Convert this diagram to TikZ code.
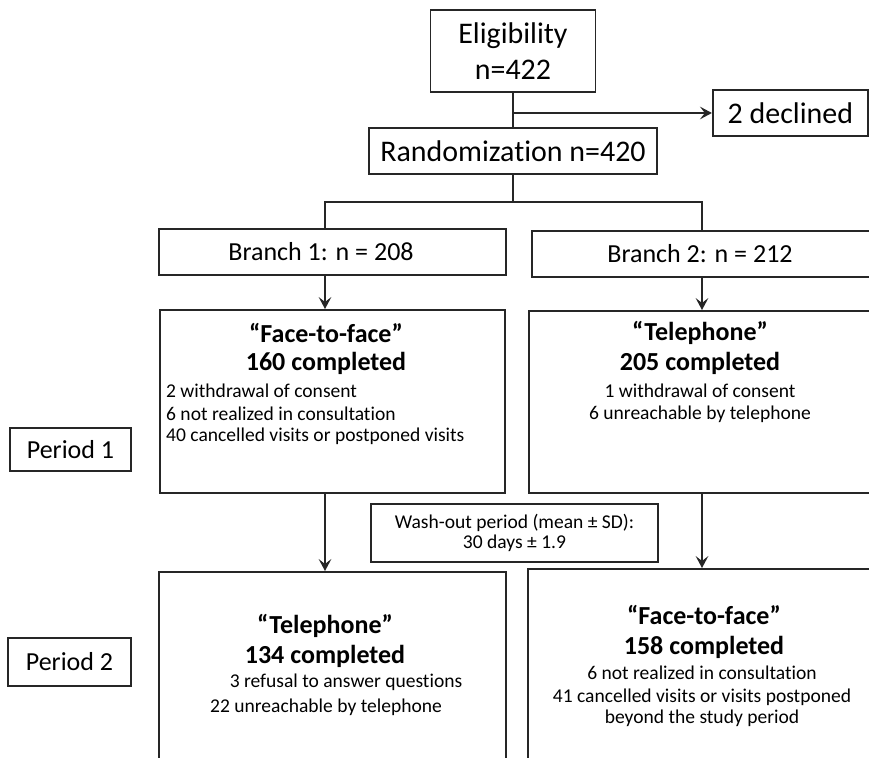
\documentclass[tikz,border=0pt]{standalone}
\usepackage{fontspec}
\setmainfont{Carlito}[Ligatures=NoCommon]
\usetikzlibrary{arrows.meta}
\begin{document}
\begin{tikzpicture}[
    box/.style={draw=black!85, line width=1.4pt, inner sep=0pt},
    bigtxt/.style={font=\fontsize{21.3}{25.6}\selectfont},
    midtxt/.style={font=\fontsize{18.5}{22}\selectfont},
    headtxt/.style={font=\bfseries\fontsize{18.5}{22}\selectfont},
    smalltxt/.style={font=\fontsize{13.9}{14.2}\selectfont},
    joinline/.style={draw=black!85, line width=1.4pt},
    joinarrow/.style={joinline, -{Stealth[length=8.5pt,width=9pt,inset=3.5pt]}}
]
    \useasboundingbox (0,0) rectangle (21.725,18.925);
    \clip (0,0) rectangle (21.725,18.925);
    \node[box, bigtxt, align=center, minimum width=4.125cm, minimum height=2.05cm] (elig) at (12.825,17.65) {Eligibility\\n=422};
    \node[box, bigtxt, minimum width=3.875cm, minimum height=1.15cm] (declined) at (19.76,16.1) {2 declined};
    \node[box, bigtxt, minimum width=7.2cm, minimum height=1.15cm] (rand) at (12.825,15.15) {Randomization n=420};
    \coordinate (split1) at (8.125,13.875);
    \coordinate (split2) at (17.55,13.875);
    \node[box, minimum width=8.675cm, minimum height=1.15cm] (branch1) at (8.31,12.625) {};
    \node[box, minimum width=8.5cm, minimum height=1.15cm] (branch2) at (17.55,12.575) {};
    \node[midtxt] (branch1txt) at (8.025,12.625) {Branch 1: n = 208};
    \node[midtxt] (branch2txt) at (17.5,12.575) {Branch 2: n = 212};
    \node[box, minimum width=8.625cm, minimum height=4.575cm] (ff1) at (8.3125,8.8875) {};
    \node[headtxt] (ff1head) at (8.15,10.6) {“Face-to-face”};
    \node[headtxt] (ff1done) at (8.15,9.85) {160 completed};
    \node[smalltxt, anchor=west] (ff1a) at (4.03,9.15) {2 withdrawal of consent};
    \node[smalltxt, anchor=west] (ff1b) at (4.03,8.575) {6 not realized in consultation};
    \node[smalltxt, anchor=west] (ff1c) at (4.03,8.025) {40 cancelled visits or postponed visits};
    \node[box, minimum width=8.575cm, minimum height=4.55cm] (tel1) at (17.5125,8.875) {};
    \node[headtxt] (tel1head) at (17.5,10.6) {“Telephone”};
    \node[headtxt] (tel1done) at (17.5,9.85) {205 completed};
    \node[smalltxt] (tel1a) at (17.5,9.15) {1 withdrawal of consent};
    \node[smalltxt] (tel1b) at (17.5,8.575) {6 unreachable by telephone};
    \node[box, midtxt, minimum width=3.025cm, minimum height=1.075cm] (per1) at (1.7625,7.6875) {Period 1};
    \node[box, smalltxt, align=center, minimum width=7.175cm, minimum height=1.45cm] (wash) at (12.8625,5.6) {Wash-out period (mean ± SD):\\30 days ± 1.9};
    \node[box, midtxt, minimum width=3.075cm, minimum height=1.2cm] (per2) at (1.7375,2.375) {Period 2};
    \node[box, minimum width=8.675cm, minimum height=5.2cm] (tel2) at (8.3125,2.025) {};
    \node[headtxt] (tel2head) at (8.125,3.275) {“Telephone”};
    \node[headtxt] (tel2done) at (8.125,2.525) {134 completed};
    \node[smalltxt] (tel2a) at (8.65,1.875) {3 refusal to answer questions};
    \node[smalltxt] (tel2b) at (8.15,1.25) {22 unreachable by telephone};
    \node[box, minimum width=8.6cm, minimum height=5.275cm] (ff2) at (17.5,2.0625) {};
    \node[headtxt] (ff2head) at (17.6,3.55) {“Face-to-face”};
    \node[headtxt] (ff2done) at (17.6,2.75) {158 completed};
    \node[smalltxt] (ff2a) at (17.55,2.1) {6 not realized in consultation};
    \node[smalltxt] (ff2b) at (17.55,1.5) {41 cancelled visits or visits postponed};
    \node[smalltxt] (ff2c) at (17.55,0.975) {beyond the study period};
    \draw[joinline] (elig.south) -- (rand.north);
    \draw[joinarrow] (elig.south |- declined.west) -- (declined.west);
    \draw[joinline] (rand.south) -- (rand.south |- split1);
    \draw[joinline] (split1 |- branch1.north) -- (split1) -- (split2) -- (split2 |- branch2.north);
    \draw[joinarrow] (branch1.south -| split1) -- (ff1.north -| split1);
    \draw[joinarrow] (branch2.south -| split2) -- (tel1.north -| split2);
    \draw[joinarrow] (ff1.south -| split1) -- (tel2.north -| split1);
    \draw[joinarrow] (tel1.south -| split2) -- (ff2.north -| split2);
\end{tikzpicture}
\end{document}
